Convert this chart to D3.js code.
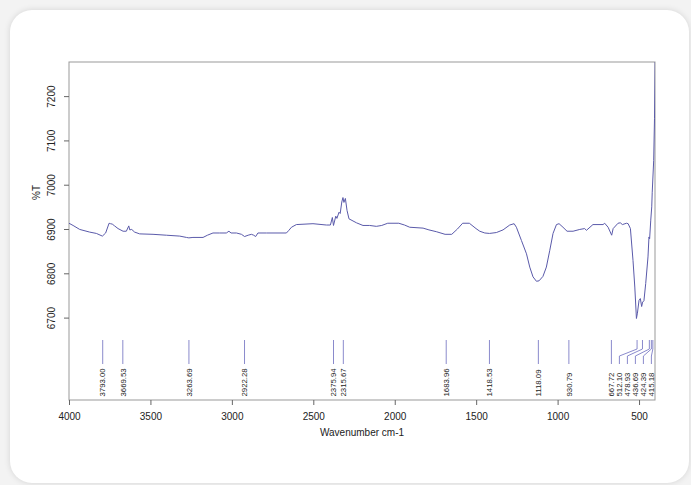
<!DOCTYPE html>
<html>
<head>
<meta charset="utf-8">
<script src="https://cdn.jsdelivr.net/npm/d3@7"></script>
<style>
  html, body { margin: 0; padding: 0; }
  body { width: 691px; height: 485px; background: #f3f3f3; position: relative; overflow: hidden;
         font-family: "Liberation Sans", Arial, sans-serif; }
  .card { position: absolute; left: 10px; top: 10px; width: 679px; height: 473px;
          background: #fff; border-radius: 22px; box-shadow: 0 0 6px rgba(0,0,0,0.13); }
  svg { position: absolute; left: 0; top: 0; }
  .tick text { fill: #222; font-size: 10px; font-family: "Liberation Sans", Arial, sans-serif; }
  .tick line { stroke: #666; }
</style>
</head>
<body>
<div class="card"></div>
<div id="chart"></div>
<script>
// spectrum (wavenumber cm-1, %T)
var wavenumber = [4000, 3975, 3934, 3873, 3832, 3795, 3775, 3754, 3745, 3734, 3720, 3699, 3668, 3648, 3633, 3627, 3615,
  3597, 3566, 3484, 3402, 3320, 3279, 3264, 3239, 3177, 3150, 3116, 3075, 3034, 3018, 3005, 2972, 2941, 2922, 2900,
  2880, 2866, 2854, 2840, 2788, 2665, 2650, 2634, 2604, 2502, 2420, 2395, 2383, 2376, 2362, 2355, 2342, 2335, 2325,
  2318, 2312, 2303, 2293, 2281, 2235, 2195, 2154, 2113, 2080, 2043, 1975, 1940, 1908, 1826, 1790, 1745, 1691, 1650,
  1615, 1583, 1542, 1501, 1478, 1447, 1418, 1376, 1335, 1294, 1267, 1253, 1222, 1191, 1171, 1151, 1130, 1114, 1090,
  1069, 1048, 1028, 1007, 991, 967, 942, 905, 864, 834, 823, 783, 721, 711, 690, 668, 659, 629, 615, 602, 577, 567,
  553, 537, 526, 516, 510, 500, 492, 484, 478, 470, 459, 445, 439, 435, 428, 422, 419, 410, 405, 401];
var transmittance = [6913, 6908, 6899, 6893, 6890, 6884, 6891, 6913, 6912, 6911, 6907, 6901, 6895, 6895, 6907, 6898, 6899,
  6893, 6889, 6888, 6886, 6884, 6881, 6880, 6881, 6881, 6886, 6891, 6891, 6891, 6895, 6891, 6891, 6888, 6883, 6886,
  6888, 6886, 6883, 6891, 6891, 6891, 6897, 6904, 6910, 6912, 6909, 6909, 6926, 6908, 6929, 6924, 6938, 6935, 6961,
  6971, 6960, 6969, 6942, 6923, 6914, 6908, 6908, 6906, 6908, 6913, 6913, 6909, 6904, 6902, 6898, 6894, 6888, 6888,
  6900, 6913, 6913, 6901, 6895, 6891, 6890, 6892, 6898, 6909, 6912, 6904, 6874, 6844, 6814, 6792, 6782, 6783, 6793,
  6814, 6852, 6890, 6910, 6912, 6904, 6895, 6895, 6899, 6901, 6897, 6910, 6910, 6913, 6904, 6886, 6901, 6913, 6914, 6910, 6913, 6912,
  6901, 6829, 6769, 6698, 6710, 6739, 6743, 6725, 6735, 6738, 6777, 6837, 6882, 6878, 6920, 6950, 6983, 7055, 7150, 7280];

var peaks = [3793.00, 3669.53, 3263.69, 2922.28, 2375.94, 2315.67, 1683.96, 1418.53, 1118.09, 930.79,
  667.72, 512.10, 478.93, 436.69, 424.39, 415.18];

var xTicks = [4000, 3500, 3000, 2500, 2000, 1500, 1000, 500];
var yTicks = [6700, 6800, 6900, 7000, 7100, 7200];

var margin = {top: 62, right: 36, bottom: 85, left: 69};
var svgWidth = 691, svgHeight = 485;
var width = svgWidth - margin.left - margin.right;
var height = svgHeight - margin.top - margin.bottom;

var svg = d3.select("#chart").append("svg")
  .attr("width", svgWidth)
  .attr("height", svgHeight);

var g = svg.append("g").attr("transform", "translate(" + margin.left + "," + margin.top + ")");

var x = d3.scaleLinear().domain([4000, 402]).range([0, width]);
var y = d3.scaleLinear().domain([6514, 7277]).range([height, 0]);

g.append("clipPath").attr("id", "clip")
  .append("rect").attr("width", width).attr("height", height);

// frame
g.append("rect")
  .attr("width", width).attr("height", height)
  .attr("fill", "none").attr("stroke", "#999").attr("stroke-width", 1);

// x axis
var xAxis = g.append("g")
  .attr("transform", "translate(0," + height + ")")
  .call(d3.axisBottom(x).tickValues(xTicks).tickSize(5).tickPadding(8).tickFormat(d3.format("d")));
xAxis.select(".domain").remove();

// y axis, labels turned
var yAxis = g.append("g")
  .call(d3.axisLeft(y).tickValues(yTicks).tickSize(5).tickFormat(d3.format("d")));
yAxis.select(".domain").remove();
yAxis.selectAll(".tick text")
  .attr("x", null).attr("dy", null)
  .attr("text-anchor", "middle")
  .attr("transform", "translate(-14,0) rotate(-90)");

g.append("text")
  .attr("transform", "translate(-29," + (130.5) + ") rotate(-90)")
  .attr("text-anchor", "middle")
  .attr("font-size", 10)
  .attr("fill", "#222")
  .text("%T");

g.append("text")
  .attr("x", width / 2).attr("y", height + 36)
  .attr("text-anchor", "middle")
  .attr("font-size", 10)
  .attr("fill", "#222")
  .text("Wavenumber cm-1");

// spectrum
var line = d3.line()
  .x(function(d, i) { return x(wavenumber[i]); })
  .y(function(d) { return y(d); });

g.append("path")
  .datum(transmittance)
  .attr("clip-path", "url(#clip)")
  .attr("fill", "none")
  .attr("stroke", "#5a5aaa")
  .attr("stroke-width", 1)
  .attr("d", line);

// peak labels, pushed left where they crowd at the right edge
var gap = 8;
var slots = peaks.map(function(p) { return x(p); });
var labelX = slots.slice();
for (var i = peaks.length - 1; i >= 0; i--) {
  var limit = (i == peaks.length - 1) ? width - 3.6 : labelX[i + 1] - gap;
  labelX[i] = Math.min(slots[i], limit);
}

var top0 = 278, bend1 = 287, bend2 = 294, bot0 = 302;
var peakG = g.append("g");
peaks.forEach(function(p, i) {
  var px = slots[i], lx = labelX[i];
  var pts = Math.abs(px - lx) < 1
    ? [[lx, top0], [lx, bot0]]
    : [[px, top0], [px, bend1], [lx, bend2], [lx, bot0]];
  peakG.append("path")
    .attr("d", d3.line()(pts))
    .attr("fill", "none")
    .attr("stroke", "#7d7dc6")
    .attr("stroke-width", 0.9);
  peakG.append("text")
    .attr("transform", "translate(" + lx + "," + (height - 3.5) + ") rotate(-90)")
    .attr("dy", "0.35em")
    .attr("font-size", 7.8)
    .attr("fill", "#222")
    .text(p.toFixed(2));
});
</script>
</body>
</html>
